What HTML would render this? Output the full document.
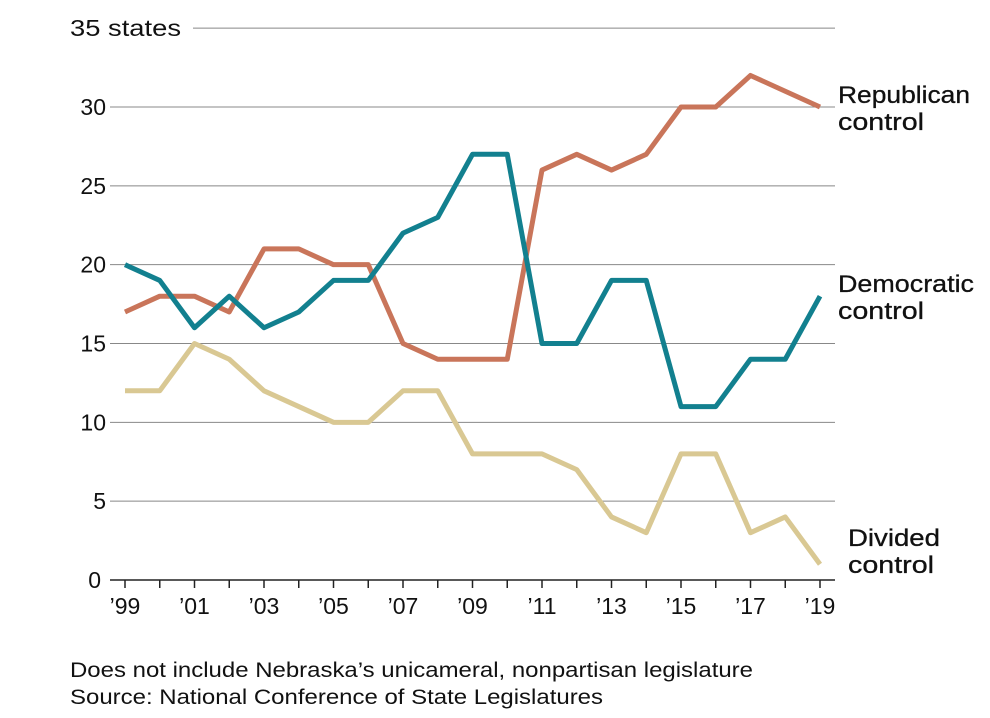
<!DOCTYPE html>
<html><head><meta charset="utf-8"><style>
body{margin:0;background:#fff;}
svg text{font-family:"Liberation Sans",sans-serif;fill:#111;}
.lab{font-size:24px;font-weight:500;stroke:#111;stroke-width:0.3;}
</style></head><body>
<svg id="s" width="990" height="713" xmlns="http://www.w3.org/2000/svg">
<g id="grid" stroke="#888" stroke-width="1"></g>
<g id="lines" fill="none" stroke-width="5" stroke-linejoin="round"></g>
<g id="txt" font-size="23"></g>
<text class="lab" x="838" y="103" textLength="132" lengthAdjust="spacingAndGlyphs">Republican</text>
<text class="lab" x="838" y="130" textLength="86" lengthAdjust="spacingAndGlyphs">control</text>
<text class="lab" x="838" y="292" textLength="136" lengthAdjust="spacingAndGlyphs">Democratic</text>
<text class="lab" x="838" y="319" textLength="86" lengthAdjust="spacingAndGlyphs">control</text>
<text class="lab" x="848" y="546" textLength="92" lengthAdjust="spacingAndGlyphs">Divided</text>
<text class="lab" x="848" y="573" textLength="86" lengthAdjust="spacingAndGlyphs">control</text>
<text x="70" y="677" font-size="21" textLength="683" lengthAdjust="spacingAndGlyphs">Does not include Nebraska’s unicameral, nonpartisan legislature</text>
<text x="70" y="704" font-size="21" textLength="533" lengthAdjust="spacingAndGlyphs">Source: National Conference of State Legislatures</text>
</svg>
<script>
var NS="http://www.w3.org/2000/svg";
function el(p,t,a,tx){var e=document.createElementNS(NS,t);for(var k in a)e.setAttribute(k,a[k]);if(tx!==undefined)e.textContent=tx;document.getElementById(p).appendChild(e);}
function Y(v){return 580-v*(473/30);}
function X(i){return 125+i*34.75;}
for(var v=5;v<=35;v+=5){
 el("grid","line",{x1:v==35?193:110,x2:835,y1:Y(v),y2:Y(v)});
 if(v==35) el("txt","text",{x:70,y:Y(v)+8,textLength:111,lengthAdjust:"spacingAndGlyphs"},"35 states");
 else el("txt","text",{x:106,y:Y(v)+8,"text-anchor":"end"},v);
}
el("txt","text",{x:101,y:588,"text-anchor":"end"},"0");
el("grid","line",{x1:110,x2:835,y1:580,y2:580,stroke:"#222","stroke-width":1.5});
for(var i=0;i<=20;i++){el("grid","line",{x1:X(i),x2:X(i),y1:580,y2:588,stroke:"#222","stroke-width":1.5});
 if(i%2==0){var yr=(99+i)%100;el("txt","text",{x:X(i),y:614,"text-anchor":"middle"},"’"+(yr<10?"0"+yr:yr));}}
var rep=[17,18,18,17,21,21,20,20,15,14,14,14,26,27,26,27,30,30,32,31,30];
var dem=[20,19,16,18,16,17,19,19,22,23,27,27,15,15,19,19,11,11,14,14,18];
var div=[12,12,15,14,12,11,10,10,12,12,8,8,8,7,4,3,8,8,3,4,1];
function pl(d,c){el("lines","polyline",{stroke:c,points:d.map(function(v,i){return X(i)+","+Y(v)}).join(" ")});}
pl(div,"#d9c893");pl(rep,"#c9755a");pl(dem,"#12808f");
</script>
</body></html>
